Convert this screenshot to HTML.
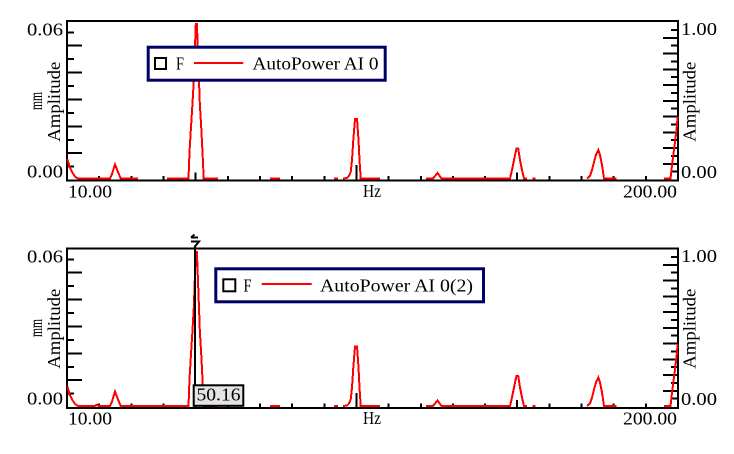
<!DOCTYPE html>
<html>
<head>
<meta charset="utf-8">
<style>
html,body{margin:0;padding:0;background:#fff;}
svg{display:block;}
text{font-family:"Liberation Serif","DejaVu Serif",serif;font-size:17.5px;fill:#000;}
</style>
</head>
<body>
<svg width="734" height="454" viewBox="0 0 734 454" xmlns="http://www.w3.org/2000/svg">
<rect x="0" y="0" width="734" height="454" fill="#fff"/>

<!-- ============ TOP PLOT ============ -->
<g id="top">
  <rect x="67" y="21" width="611" height="159.5" fill="none" stroke="#000" stroke-width="2"/>
  <g stroke="#000" stroke-width="2" shape-rendering="crispEdges">
    <line x1="67" y1="32.3" x2="74" y2="32.3"/>
    <line x1="67" y1="45.7" x2="82" y2="45.7"/>
    <line x1="67" y1="59.2" x2="74" y2="59.2"/>
    <line x1="67" y1="72.6" x2="82" y2="72.6"/>
    <line x1="67" y1="86.0" x2="74" y2="86.0"/>
    <line x1="67" y1="99.5" x2="82" y2="99.5"/>
    <line x1="67" y1="112.9" x2="74" y2="112.9"/>
    <line x1="67" y1="126.4" x2="82" y2="126.4"/>
    <line x1="67" y1="139.8" x2="74" y2="139.8"/>
    <line x1="67" y1="153.2" x2="82" y2="153.2"/>
    <line x1="67" y1="166.7" x2="74" y2="166.7"/>
  </g>
  <g stroke="#000" stroke-width="2" shape-rendering="crispEdges">
    <line x1="671" y1="30.0" x2="678" y2="30.0"/>
    <line x1="663" y1="37.9" x2="678" y2="37.9"/>
    <line x1="671" y1="45.7" x2="678" y2="45.7"/>
    <line x1="663" y1="53.6" x2="678" y2="53.6"/>
    <line x1="671" y1="61.5" x2="678" y2="61.5"/>
    <line x1="663" y1="69.4" x2="678" y2="69.4"/>
    <line x1="671" y1="77.2" x2="678" y2="77.2"/>
    <line x1="663" y1="85.1" x2="678" y2="85.1"/>
    <line x1="671" y1="93.0" x2="678" y2="93.0"/>
    <line x1="663" y1="100.9" x2="678" y2="100.9"/>
    <line x1="671" y1="108.7" x2="678" y2="108.7"/>
    <line x1="663" y1="116.6" x2="678" y2="116.6"/>
    <line x1="671" y1="124.5" x2="678" y2="124.5"/>
    <line x1="663" y1="132.4" x2="678" y2="132.4"/>
    <line x1="671" y1="140.2" x2="678" y2="140.2"/>
    <line x1="663" y1="148.1" x2="678" y2="148.1"/>
    <line x1="671" y1="156.0" x2="678" y2="156.0"/>
    <line x1="663" y1="163.9" x2="678" y2="163.9"/>
    <line x1="671" y1="171.7" x2="678" y2="171.7"/>
  </g>
  <g stroke="#000" stroke-width="2" shape-rendering="crispEdges">
    <line x1="99.2" y1="176" x2="99.2" y2="180"/>
    <line x1="131.3" y1="176" x2="131.3" y2="180"/>
    <line x1="163.5" y1="176" x2="163.5" y2="180"/>
    <line x1="195.6" y1="172.5" x2="195.6" y2="180"/>
    <line x1="227.8" y1="176" x2="227.8" y2="180"/>
    <line x1="260" y1="176" x2="260" y2="180"/>
    <line x1="292.1" y1="176" x2="292.1" y2="180"/>
    <line x1="324.3" y1="176" x2="324.3" y2="180"/>
    <line x1="356.4" y1="165" x2="356.4" y2="180"/>
    <line x1="388.6" y1="176" x2="388.6" y2="180"/>
    <line x1="420.8" y1="176" x2="420.8" y2="180"/>
    <line x1="452.9" y1="176" x2="452.9" y2="180"/>
    <line x1="485" y1="176" x2="485" y2="180"/>
    <line x1="517.2" y1="172.5" x2="517.2" y2="180"/>
    <line x1="549.4" y1="176" x2="549.4" y2="180"/>
    <line x1="581.5" y1="176" x2="581.5" y2="180"/>
    <line x1="613.7" y1="176" x2="613.7" y2="180"/>
    <line x1="645.8" y1="176" x2="645.8" y2="180"/>
  </g>
  <g fill="none" stroke="#ff0000" stroke-width="2" stroke-linejoin="miter" shape-rendering="crispEdges">
    <polyline points="67.5,159 68.5,163 70,168 72.7,173 75,176.7 78,178.5 110,178.5 112,174 115,164.5 118,172 120.7,178.5 138,178.5"/>
    <polyline points="167,178.5 188.5,178.5 189.5,152 191,127 192.5,103 193.8,81 195.8,24 196.9,24 199,81 199.8,103 201.2,127 202.5,152 203.7,178.5 218,178.5"/>
    <polyline points="270,178.5 280,178.5"/>
    <polyline points="334,178.5 338,178.5"/>
    <polyline points="343,178.5 347,178 349,176 350.7,172 352,160 353.3,140 355,119 357,119 358.5,140 359.5,160 360.7,178.5 380,178.5"/>
    <polyline points="426,178.5 433,178.5 437.5,173 441.5,178.5 510,178.5 512,170 514,160 516.5,148.3 518.2,148.3 520,160 522,170 524,178.5 527,178.5"/>
    <polyline points="532.7,178.5 535.7,178.5"/>
    <polyline points="587,178.5 590,176 592,170 594,162 596,155 598.3,150 600,155 602,165 604,178.5 616.7,178.5"/>
    <polyline points="664,178.5 670.5,178.5 671.7,168 673.3,155 675,142 676.7,128 677.6,116.5"/>
  </g>
  <text x="27" y="35.5" textLength="36" lengthAdjust="spacingAndGlyphs">0.06</text>
  <text x="27" y="177.5" textLength="36" lengthAdjust="spacingAndGlyphs">0.00</text>
  <text x="681" y="35" textLength="36" lengthAdjust="spacingAndGlyphs">1.00</text>
  <text x="681" y="178" textLength="36" lengthAdjust="spacingAndGlyphs">0.00</text>
  <text x="68" y="197.5" textLength="44" lengthAdjust="spacingAndGlyphs">10.00</text>
  <text x="363" y="197" textLength="18" lengthAdjust="spacingAndGlyphs">Hz</text>
  <text x="623" y="197.5" textLength="54" lengthAdjust="spacingAndGlyphs">200.00</text>
  <g transform="translate(60,101.7) rotate(-90)"><text x="-40" y="0" textLength="80" lengthAdjust="spacingAndGlyphs">Amplitude</text></g>
  <g transform="translate(42,101) rotate(-90)"><text x="-9" y="0" textLength="18" lengthAdjust="spacingAndGlyphs">mm</text></g>
  <g transform="translate(695.5,101.7) rotate(-90)"><text x="-40" y="0" textLength="80" lengthAdjust="spacingAndGlyphs">Amplitude</text></g>
</g>

<!-- top legend -->
<rect x="148.2" y="47.2" width="237" height="33" fill="#fff" stroke="#000066" stroke-width="3"/>
<rect x="155" y="58" width="11" height="11" fill="#fff" stroke="#000" stroke-width="2"/>
<text x="176" y="69.5" textLength="8" lengthAdjust="spacingAndGlyphs">F</text>
<line x1="194" y1="63" x2="243.3" y2="63" stroke="#ff0000" stroke-width="2"/>
<text x="252.5" y="69.5" textLength="126" lengthAdjust="spacingAndGlyphs">AutoPower AI 0</text>

<!-- ============ BOTTOM PLOT ============ -->
<g transform="translate(0,227)">
  <rect x="67" y="21.5" width="611" height="159.5" fill="none" stroke="#000" stroke-width="2"/>
  <g stroke="#000" stroke-width="2" shape-rendering="crispEdges">
    <line x1="67" y1="32.3" x2="74" y2="32.3"/>
    <line x1="67" y1="45.7" x2="82" y2="45.7"/>
    <line x1="67" y1="59.2" x2="74" y2="59.2"/>
    <line x1="67" y1="72.6" x2="82" y2="72.6"/>
    <line x1="67" y1="86.0" x2="74" y2="86.0"/>
    <line x1="67" y1="99.5" x2="82" y2="99.5"/>
    <line x1="67" y1="112.9" x2="74" y2="112.9"/>
    <line x1="67" y1="126.4" x2="82" y2="126.4"/>
    <line x1="67" y1="139.8" x2="74" y2="139.8"/>
    <line x1="67" y1="153.2" x2="82" y2="153.2"/>
    <line x1="67" y1="166.7" x2="74" y2="166.7"/>
  </g>
  <g stroke="#000" stroke-width="2" shape-rendering="crispEdges">
    <line x1="671" y1="30.0" x2="678" y2="30.0"/>
    <line x1="663" y1="37.9" x2="678" y2="37.9"/>
    <line x1="671" y1="45.7" x2="678" y2="45.7"/>
    <line x1="663" y1="53.6" x2="678" y2="53.6"/>
    <line x1="671" y1="61.5" x2="678" y2="61.5"/>
    <line x1="663" y1="69.4" x2="678" y2="69.4"/>
    <line x1="671" y1="77.2" x2="678" y2="77.2"/>
    <line x1="663" y1="85.1" x2="678" y2="85.1"/>
    <line x1="671" y1="93.0" x2="678" y2="93.0"/>
    <line x1="663" y1="100.9" x2="678" y2="100.9"/>
    <line x1="671" y1="108.7" x2="678" y2="108.7"/>
    <line x1="663" y1="116.6" x2="678" y2="116.6"/>
    <line x1="671" y1="124.5" x2="678" y2="124.5"/>
    <line x1="663" y1="132.4" x2="678" y2="132.4"/>
    <line x1="671" y1="140.2" x2="678" y2="140.2"/>
    <line x1="663" y1="148.1" x2="678" y2="148.1"/>
    <line x1="671" y1="156.0" x2="678" y2="156.0"/>
    <line x1="663" y1="163.9" x2="678" y2="163.9"/>
    <line x1="671" y1="171.7" x2="678" y2="171.7"/>
  </g>
  <g stroke="#000" stroke-width="2" shape-rendering="crispEdges">
    <line x1="99.2" y1="176.5" x2="99.2" y2="180.5"/>
    <line x1="131.3" y1="176.5" x2="131.3" y2="180.5"/>
    <line x1="163.5" y1="176.5" x2="163.5" y2="180.5"/>
    <line x1="195.6" y1="173" x2="195.6" y2="180.5"/>
    <line x1="227.8" y1="176.5" x2="227.8" y2="180.5"/>
    <line x1="260" y1="176.5" x2="260" y2="180.5"/>
    <line x1="292.1" y1="176.5" x2="292.1" y2="180.5"/>
    <line x1="324.3" y1="176.5" x2="324.3" y2="180.5"/>
    <line x1="356.4" y1="166" x2="356.4" y2="180.5"/>
    <line x1="388.6" y1="176.5" x2="388.6" y2="180.5"/>
    <line x1="420.8" y1="176.5" x2="420.8" y2="180.5"/>
    <line x1="452.9" y1="176.5" x2="452.9" y2="180.5"/>
    <line x1="485" y1="176.5" x2="485" y2="180.5"/>
    <line x1="517.2" y1="173" x2="517.2" y2="180.5"/>
    <line x1="549.4" y1="176.5" x2="549.4" y2="180.5"/>
    <line x1="581.5" y1="176.5" x2="581.5" y2="180.5"/>
    <line x1="613.7" y1="176.5" x2="613.7" y2="180.5"/>
    <line x1="645.8" y1="176.5" x2="645.8" y2="180.5"/>
  </g>
  <g fill="none" stroke="#ff0000" stroke-width="2" stroke-linejoin="miter" shape-rendering="crispEdges">
    <polyline points="67.5,159.5 68.5,163.5 70,168.5 72.7,173.5 75,177 78,179 95,179 97,177.5 99,179 110,179 112,174.5 115,164.5 118,172.5 120.7,179 188.5,179 189.5,152 191,127 192.5,103 193.8,81 195.8,25 196.9,25 199,81 199.8,103 201.2,127 202.5,152 203.7,179 218,179"/>
    <polyline points="270,179 280,179"/>
    <polyline points="334,179 338,179"/>
    <polyline points="343,179 347,178.5 349,176.5 350.7,172.5 352,160.5 353.3,140.5 355,119.5 357,119.5 358.5,140.5 359.5,160.5 360.7,179 380,179"/>
    <polyline points="426,179 433,179 437.5,173.5 441.5,179 510,179 512,170.5 514,160.5 516.5,148.8 518.2,148.8 520,160.5 522,170.5 524,179 527,179"/>
    <polyline points="532.7,179 535.7,179"/>
    <polyline points="587,179 590,176.5 592,170.5 594,162.5 596,155.5 598.3,150.5 600,155.5 602,165.5 604,179 616.7,179"/>
    <polyline points="664,179 670.5,179 671.7,168.5 673.3,155.5 675,142.5 676.7,128.5 677.6,117"/>
  </g>
  <text x="27" y="35.5" textLength="36" lengthAdjust="spacingAndGlyphs">0.06</text>
  <text x="27" y="177.5" textLength="36" lengthAdjust="spacingAndGlyphs">0.00</text>
  <text x="681" y="35" textLength="36" lengthAdjust="spacingAndGlyphs">1.00</text>
  <text x="681" y="178" textLength="36" lengthAdjust="spacingAndGlyphs">0.00</text>
  <text x="68" y="197.5" textLength="44" lengthAdjust="spacingAndGlyphs">10.00</text>
  <text x="363" y="197" textLength="18" lengthAdjust="spacingAndGlyphs">Hz</text>
  <text x="623" y="197.5" textLength="54" lengthAdjust="spacingAndGlyphs">200.00</text>
  <g transform="translate(60,101.7) rotate(-90)"><text x="-40" y="0" textLength="80" lengthAdjust="spacingAndGlyphs">Amplitude</text></g>
  <g transform="translate(42,101) rotate(-90)"><text x="-9" y="0" textLength="18" lengthAdjust="spacingAndGlyphs">mm</text></g>
  <g transform="translate(695.5,101.7) rotate(-90)"><text x="-40" y="0" textLength="80" lengthAdjust="spacingAndGlyphs">Amplitude</text></g>
</g>

<!-- bottom legend -->
<rect x="215.8" y="268.8" width="267.7" height="33" fill="#fff" stroke="#000066" stroke-width="3"/>
<rect x="223.3" y="279.3" width="12" height="12" fill="#fff" stroke="#000" stroke-width="2"/>
<text x="243.5" y="291.3" textLength="8" lengthAdjust="spacingAndGlyphs">F</text>
<line x1="261.7" y1="284" x2="311.7" y2="284" stroke="#ff0000" stroke-width="2"/>
<text x="320" y="291.3" textLength="153" lengthAdjust="spacingAndGlyphs">AutoPower AI 0(2)</text>

<!-- cursor -->
<line x1="195" y1="246" x2="195" y2="386" stroke="#000" stroke-width="2" shape-rendering="crispEdges"/>
<path d="M191,237.5 H198 M191,237.5 L194.5,234.5 M191,241.5 H199 L194.5,247" fill="none" stroke="#000" stroke-width="2"/>
<rect x="193.7" y="385.3" width="49.6" height="20.5" fill="#e4e4e4" stroke="#000" stroke-width="2"/>
<text x="196.5" y="400.7" textLength="44" lengthAdjust="spacingAndGlyphs">50.16</text>
</svg>
</body>
</html>
